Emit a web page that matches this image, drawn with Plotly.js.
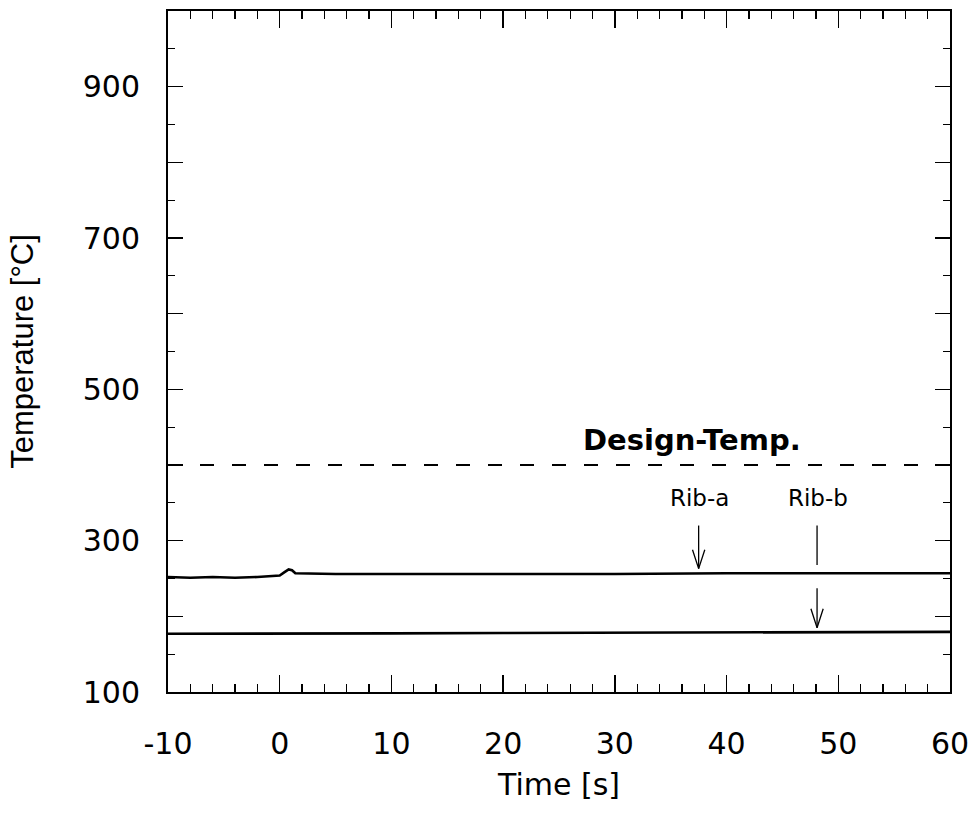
<!DOCTYPE html>
<html>
<head>
<meta charset="utf-8">
<script src="https://cdn.plot.ly/plotly-3.0.1.min.js"></script>
<style>
  html, body { margin: 0; padding: 0; background: #ffffff; }
  #chart { width: 979px; height: 818px; }
</style>
</head>
<body>
<div id="chart"></div>
<script>
// ---- data ----
const ribAX = [-10, -8, -6, -4, -2, -1, 0, 0.4, 0.8, 1.1, 1.4, 5, 10, 20, 30, 40, 50, 60];
const ribAY = [252, 251, 252, 251, 252, 253, 254, 258, 262, 261, 257, 256, 256, 256, 256, 257, 257, 257];
const ribBX = [-10, 0, 10, 20, 30, 40, 50, 60];
const ribBY = [177, 177, 177.5, 178, 178.5, 179, 179, 179.5];
const designX = [-10, 60];
const designY = [400, 400];

const xTickVals = [-10, 0, 10, 20, 30, 40, 50, 60];
const xTickText = ['-10', '0', '10', '20', '30', '40', '50', '60'];
const yTickVals = [100, 200, 300, 400, 500, 600, 700, 800, 900, 1000];
const yTickText = ['100', '', '300', '', '500', '', '700', '', '900', ''];

const designLabel = 'Design-Temp.';
const designLabelX = 36.9;
const designLabelY = 433;

const ribLabels = ['Rib-a', 'Rib-b'];
const ribLabelX = [37.6, 48.2];
const ribLabelY = [357, 357];
// arrow segments: x, top, tip, whether it has a head
const arrowX    = [37.5, 48.1, 48.1];
const arrowTop  = [320, 320, 237];
const arrowTip  = [263, 268, 185];
const arrowHead = [true, false, true];
const headDepth = 25;
const headHalfWidth = 0.55;

// ---- traces ----
const traces = [
  { x: ribAX, y: ribAY, mode: 'lines', line: { color: '#000', width: 2.6 }, name: 'Rib-a', hoverinfo: 'skip' },
  { x: ribBX, y: ribBY, mode: 'lines', line: { color: '#000', width: 2.6 }, name: 'Rib-b', hoverinfo: 'skip' },
  { x: designX, y: designY, mode: 'lines', line: { color: '#000', width: 2, dash: '14px,18px' }, name: 'Design-Temp.', hoverinfo: 'skip' }
];
for (let i = 0; i < arrowX.length; i++) {
  traces.push({ x: [arrowX[i], arrowX[i]], y: [arrowTop[i], arrowTip[i]], mode: 'lines',
    line: { color: '#000', width: 1.3 }, hoverinfo: 'skip', showlegend: false });
  if (arrowHead[i]) {
    traces.push({ x: [arrowX[i] - headHalfWidth, arrowX[i], arrowX[i] + headHalfWidth],
      y: [arrowTip[i] + headDepth, arrowTip[i], arrowTip[i] + headDepth], mode: 'lines',
      line: { color: '#000', width: 1.3 }, hoverinfo: 'skip', showlegend: false });
  }
}

const annotations = [
  { x: designLabelX, y: designLabelY, xref: 'x', yref: 'y', text: '<b>' + designLabel + '</b>', showarrow: false,
    font: { family: 'DejaVu Sans', size: 29, color: '#000' } }
];
for (let i = 0; i < ribLabels.length; i++) {
  annotations.push({ x: ribLabelX[i], y: ribLabelY[i], xref: 'x', yref: 'y', text: ribLabels[i], showarrow: false,
    font: { family: 'DejaVu Sans', size: 23, color: '#000' } });
}

const layout = {
  width: 979, height: 818,
  paper_bgcolor: '#fff', plot_bgcolor: '#fff',
  margin: { l: 168, r: 29, t: 11, b: 126 },
  showlegend: false,
  xaxis: {
    range: [-10, 60], tickmode: 'array', tickvals: xTickVals, ticktext: xTickText,
    ticks: 'inside', ticklen: 17, tickwidth: 1.5, tickcolor: '#000',
    minor: { dtick: 2, tick0: 0, ticks: 'inside', ticklen: 8, tickwidth: 1.3, tickcolor: '#000', showgrid: false },
    showline: true, linewidth: 2, linecolor: '#000', mirror: 'allticks',
    showgrid: false, zeroline: false,
    ticklabelstandoff: 24,
    tickfont: { family: 'DejaVu Sans', size: 30, color: '#000' },
    title: { text: 'Time [s]', standoff: 14, font: { family: 'DejaVu Sans', size: 30, color: '#000' } }
  },
  yaxis: {
    range: [100, 1000], tickmode: 'array', tickvals: yTickVals, ticktext: yTickText,
    ticks: 'inside', ticklen: 15, tickwidth: 1.5, tickcolor: '#000',
    minor: { dtick: 50, tick0: 0, ticks: 'inside', ticklen: 7, tickwidth: 1.3, tickcolor: '#000', showgrid: false },
    showline: true, linewidth: 2, linecolor: '#000', mirror: 'allticks',
    showgrid: false, zeroline: false,
    ticklabelstandoff: 20,
    tickfont: { family: 'DejaVu Sans', size: 30, color: '#000' },
    title: { text: 'Temperature [°C]', standoff: 40, font: { family: 'Liberation Sans', size: 31, color: '#000' } }
  },
  annotations: annotations
};

Plotly.newPlot('chart', traces, layout, { displayModeBar: false, staticPlot: true });
</script>
</body>
</html>
